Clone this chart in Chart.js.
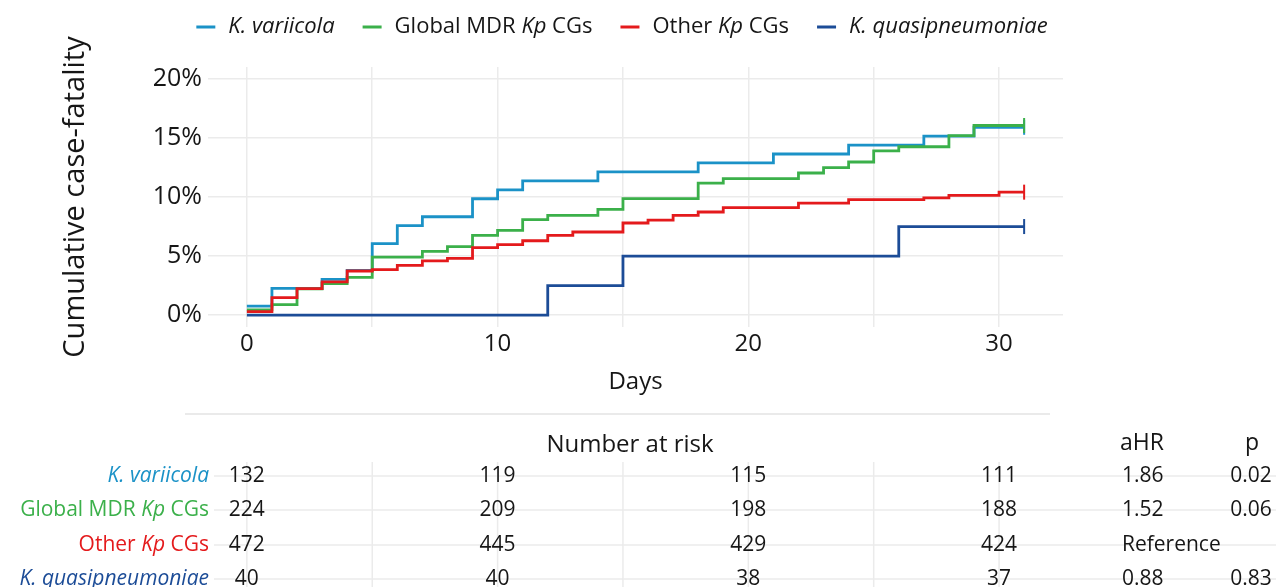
<!DOCTYPE html>
<html>
<head>
<meta charset="utf-8">
<script src="https://cdn.jsdelivr.net/npm/chart.js@4.4.1/dist/chart.umd.min.js"></script>
<style>
  html, body { margin: 0; padding: 0; background: #fff; }
</style>
</head>
<body>
<canvas id="kmChart" width="1276" height="587"></canvas>
<script>
// 各組累積死亡率 (事件日, %)
const variicolaDays = [0, 1, 3, 4, 5, 6, 7, 9, 10, 11, 14, 18, 21, 24, 27, 29, 31];
const variicolaPct  = [0.76, 2.27, 3.03, 3.79, 6.06, 7.58, 8.33, 9.85, 10.6, 11.36, 12.12, 12.88, 13.64, 14.39, 15.15, 15.9, 15.9];

const mdrDays = [0, 1, 2, 3, 4, 5, 7, 8, 9, 10, 11, 12, 14, 15, 18, 19, 22, 23, 24, 25, 26, 28, 29, 31];
const mdrPct  = [0.45, 0.9, 2.23, 2.68, 3.2, 4.91, 5.4, 5.8, 6.76, 7.18, 8.08, 8.45, 8.96, 9.86, 11.18, 11.55, 12.03, 12.48, 12.96, 13.9, 14.25, 15.19, 16.05, 16.05];

const otherDays = [0, 1, 2, 3, 4, 5, 6, 7, 8, 9, 10, 11, 12, 13, 15, 16, 17, 18, 19, 22, 24, 27, 28, 30, 31];
const otherPct  = [0.3, 1.49, 2.25, 2.81, 3.74, 3.85, 4.22, 4.59, 4.8, 5.72, 5.97, 6.3, 6.76, 7.04, 7.8, 8.05, 8.45, 8.73, 9.1, 9.49, 9.77, 9.93, 10.13, 10.41, 10.41];

const quasiDays = [0, 12, 15, 26, 31];
const quasiPct  = [0, 2.5, 5, 7.5, 7.5];

// 座標軸
const xGridDays = [0, 5, 10, 15, 20, 25, 30];
const yGridPct = [0, 2.5, 5, 7.5, 10, 12.5, 15, 17.5, 20];

// 風險表 (Number at risk)
const riskDays = [0, 10, 20, 30];
const riskVariicola = [132, 119, 115, 111];
const riskMdr = [224, 209, 198, 188];
const riskOther = [472, 445, 429, 424];
const riskQuasi = [40, 40, 38, 37];
const aHR = ['1.86', '1.52', 'Reference', '0.88'];
const pValues = ['0.02', '0.06', '', '0.83'];

const colors = ['#1b92c7', '#3bb04a', '#e41a1c', '#1c4c97'];
const groupNames = [
    [{ t: 'K. variicola', i: true }],
    [{ t: 'Global MDR ' }, { t: 'Kp', i: true }, { t: ' CGs' }],
    [{ t: 'Other ' }, { t: 'Kp', i: true }, { t: ' CGs' }],
    [{ t: 'K. quasipneumoniae', i: true }]
];

const FONT = '"Open Sans", "Noto Sans", sans-serif';
const TEXT = '#161616';
const GRID = '#ebebeb';

function toPoints(days, pct) {
    return days.map((d, i) => ({ x: d, y: pct[i] }));
}

// 量測/畫出有斜體片段的文字
function partsWidth(ctx, parts, size) {
    let w = 0;
    parts.forEach(p => {
        ctx.font = (p.i ? 'italic ' : '') + size + 'px ' + FONT;
        w += ctx.measureText(p.t).width;
    });
    return w;
}

function drawParts(ctx, parts, x, y, size, color, align) {
    const w = partsWidth(ctx, parts, size);
    let cx = align === 'right' ? x - w : x;
    ctx.textAlign = 'left';
    ctx.textBaseline = 'middle';
    ctx.fillStyle = color;
    parts.forEach(p => {
        ctx.font = (p.i ? 'italic ' : '') + size + 'px ' + FONT;
        ctx.fillText(p.t, cx, y);
        cx += ctx.measureText(p.t).width;
    });
}

function makeDataset(label, days, pct, color, order) {
    const last = days.length - 1;
    return {
        label: label,
        data: toPoints(days, pct),
        borderColor: color,
        backgroundColor: color,
        borderWidth: 2.8,
        stepped: 'before',
        fill: false,
        order: order,
        pointStyle: 'line',
        rotation: 90,
        pointRadius: ctx => ctx.dataIndex === last ? 7.5 : 0,
        pointBorderColor: color,
        pointBorderWidth: 2
    };
}

// 上方圖例 + 下方風險表
const extrasPlugin = {
    id: 'kmExtras',
    afterDraw(chart) {
        const ctx = chart.ctx;
        const xs = chart.scales.x;
        ctx.save();

        // 圖例
        const legSize = 22, mark = 19, gapMark = 13, gapItem = 28;
        let total = 0;
        const widths = groupNames.map(g => partsWidth(ctx, g, legSize));
        widths.forEach(w => { total += mark + gapMark + w; });
        total += gapItem * (groupNames.length - 1);
        let lx = 622 - total / 2;
        const ly = 27;
        groupNames.forEach((g, i) => {
            ctx.strokeStyle = colors[i];
            ctx.lineWidth = 3;
            ctx.beginPath();
            ctx.moveTo(lx, ly);
            ctx.lineTo(lx + mark, ly);
            ctx.stroke();
            drawParts(ctx, g, lx + mark + gapMark, ly, legSize, TEXT, 'left');
            lx += mark + gapMark + widths[i] + gapItem;
        });

        // 風險表
        const rowY = [476, 510, 545, 579];
        const risk = [riskVariicola, riskMdr, riskOther, riskQuasi];

        ctx.strokeStyle = '#e3e3e3';
        ctx.lineWidth = 1.5;
        ctx.beginPath();
        ctx.moveTo(185, 414);
        ctx.lineTo(1050, 414);
        ctx.stroke();

        ctx.strokeStyle = GRID;
        ctx.lineWidth = 1.5;
        xGridDays.forEach(d => {
            const px = xs.getPixelForValue(d);
            ctx.beginPath();
            ctx.moveTo(px, 462);
            ctx.lineTo(px, 587);
            ctx.stroke();
        });
        rowY.forEach(y => {
            ctx.beginPath();
            ctx.moveTo(214, y);
            ctx.lineTo(1276, y);
            ctx.stroke();
        });

        ctx.fillStyle = TEXT;
        ctx.textBaseline = 'middle';
        ctx.textAlign = 'center';
        ctx.font = '24px ' + FONT;
        ctx.fillText('Number at risk', 630, 445);
        ctx.font = '23px ' + FONT;
        ctx.textAlign = 'left';
        ctx.fillText('aHR', 1120, 443);
        ctx.textAlign = 'center';
        ctx.fillText('p', 1252, 443);

        risk.forEach((vals, r) => {
            drawParts(ctx, groupNames[r], 209, rowY[r], 21, colors[r], 'right');
            ctx.fillStyle = TEXT;
            ctx.font = '21px ' + FONT;
            ctx.textAlign = 'center';
            vals.forEach((v, c) => {
                ctx.fillText(String(v), xs.getPixelForValue(riskDays[c]), rowY[r]);
            });
            ctx.textAlign = 'left';
            ctx.fillText(aHR[r], 1122, rowY[r]);
            ctx.textAlign = 'center';
            ctx.fillText(pValues[r], 1251, rowY[r]);
        });

        ctx.restore();
    }
};

const ctx = document.getElementById('kmChart');

new Chart(ctx, {
    type: 'line',
    data: {
        datasets: [
            makeDataset('K. variicola', variicolaDays, variicolaPct, colors[0], 4),
            makeDataset('Global MDR Kp CGs', mdrDays, mdrPct, colors[1], 3),
            makeDataset('Other Kp CGs', otherDays, otherPct, colors[2], 2),
            makeDataset('K. quasipneumoniae', quasiDays, quasiPct, colors[3], 1)
        ]
    },
    options: {
        responsive: false,
        animation: false,
        layout: {
            padding: { left: 58, top: 67, right: 213, bottom: 180 }
        },
        plugins: {
            legend: { display: false },
            tooltip: { enabled: false }
        },
        scales: {
            x: {
                type: 'linear',
                min: -1.55,
                max: 32.55,
                afterBuildTicks: s => { s.ticks = xGridDays.map(v => ({ value: v })); },
                afterFit: s => { s.height = 80; },
                border: { display: false },
                grid: { color: GRID, lineWidth: 1.5, drawTicks: false },
                ticks: {
                    padding: 3,
                    color: TEXT,
                    font: { family: FONT, size: 24 },
                    maxRotation: 0,
                    callback: v => (v % 10 === 0 ? String(v) : '')
                },
                title: {
                    display: true,
                    text: 'Days',
                    color: TEXT,
                    font: { family: FONT, size: 24 },
                    padding: { top: 0, bottom: 10 }
                }
            },
            y: {
                type: 'linear',
                min: -1,
                max: 21,
                afterBuildTicks: s => { s.ticks = yGridPct.map(v => ({ value: v })); },
                afterFit: s => { s.width = 150; },
                border: { display: false },
                grid: { color: GRID, lineWidth: 1.5, drawTicks: false },
                ticks: {
                    padding: 6,
                    color: TEXT,
                    font: { family: FONT, size: 25 },
                    callback: v => (v % 5 === 0 ? v + '%' : '')
                },
                title: {
                    display: true,
                    text: 'Cumulative case-fatality',
                    color: TEXT,
                    font: { family: FONT, size: 29 },
                    padding: { top: 0, bottom: 0 }
                }
            }
        }
    },
    plugins: [extrasPlugin]
});
</script>
</body>
</html>
